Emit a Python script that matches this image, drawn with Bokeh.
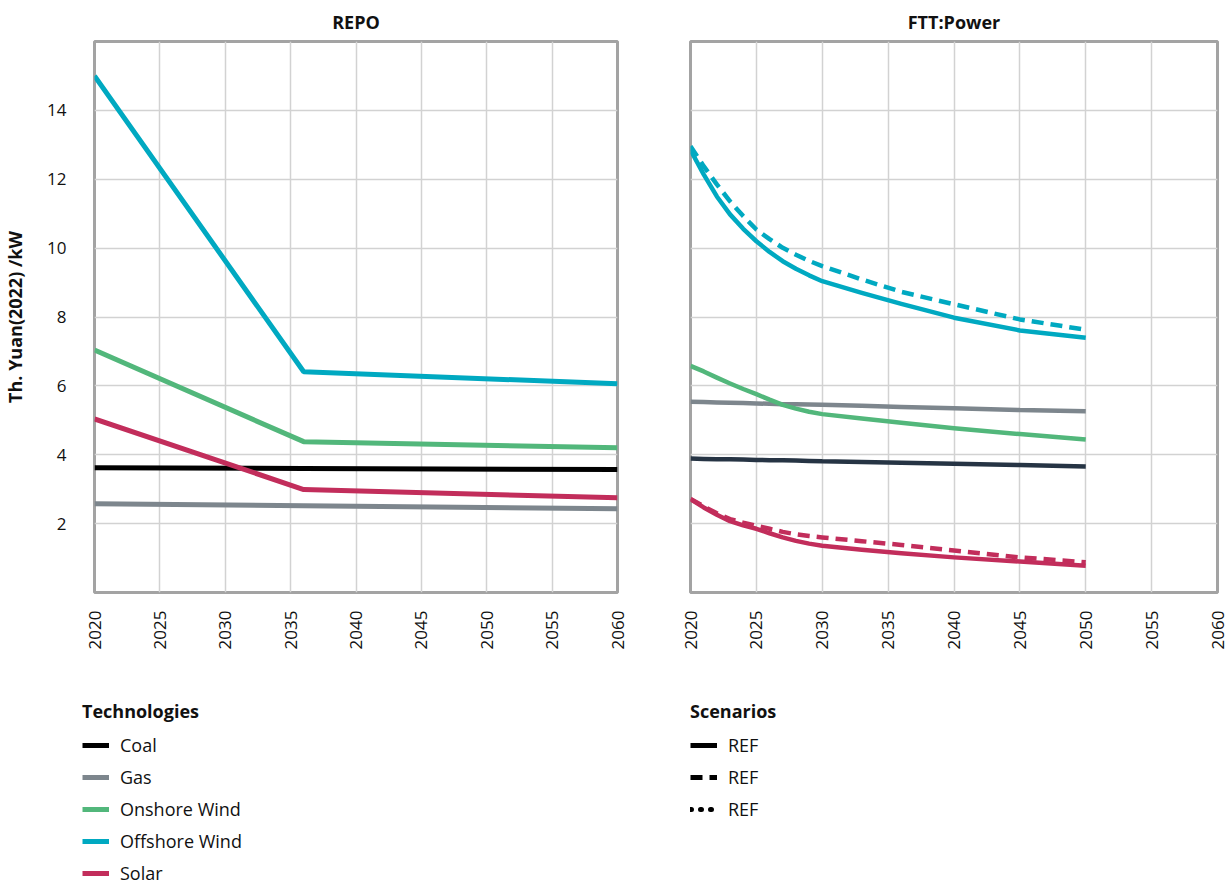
from bokeh.plotting import figure
from bokeh.layouts import row, column
from bokeh.models import Range1d, FixedTicker, Legend, LegendItem
from bokeh.embed import file_html
from bokeh.resources import INLINE

FONT = "Open Sans"

# ---------------- data ----------------
tech_names = ["Coal", "Gas", "Onshore Wind", "Offshore Wind", "Solar"]
tech_colors = ["#000000", "#7d868d", "#52b77b", "#00a9c1", "#c22d5b"]

repo_years = [2020, 2036, 2060]
repo_coal = [3.62, 3.60, 3.57]
repo_gas = [2.58, 2.52, 2.43]
repo_onshore = [7.04, 4.38, 4.20]
repo_offshore = [15.0, 6.41, 6.06]
repo_solar = [5.04, 2.99, 2.75]

ftt_years = [2020, 2021, 2022, 2023, 2024, 2025, 2026, 2027, 2028, 2029, 2030,
             2033, 2036, 2040, 2045, 2050]
ftt_coal = [3.89, 3.88, 3.87, 3.87, 3.86, 3.85, 3.84, 3.84, 3.83, 3.82, 3.81,
            3.79, 3.77, 3.74, 3.70, 3.66]
ftt_gas = [5.54, 5.53, 5.52, 5.51, 5.50, 5.49, 5.48, 5.47, 5.47, 5.46, 5.45,
           5.42, 5.39, 5.35, 5.30, 5.26]
ftt_onshore = [6.58, 6.42, 6.24, 6.07, 5.91, 5.76, 5.60, 5.45, 5.34, 5.25, 5.18,
               5.05, 4.93, 4.77, 4.60, 4.44]
ftt_offshore = [12.85, 12.14, 11.50, 10.98, 10.56, 10.20, 9.89, 9.62, 9.40, 9.21, 9.04,
                8.70, 8.38, 7.98, 7.61, 7.40]
ftt_offshore_dash = [12.96, 12.38, 11.85, 11.36, 10.93, 10.54, 10.26, 10.01, 9.81, 9.63, 9.48,
                     9.09, 8.73, 8.37, 7.93, 7.63]
ftt_solar = [2.71, 2.47, 2.26, 2.07, 1.95, 1.85, 1.72, 1.60, 1.50, 1.42, 1.36,
             1.24, 1.14, 1.02, 0.90, 0.78]
ftt_solar_dash = [2.72, 2.50, 2.30, 2.13, 2.03, 1.94, 1.85, 1.76, 1.69, 1.64, 1.60,
                  1.49, 1.38, 1.22, 1.02, 0.88]

x_ticks = [2020, 2025, 2030, 2035, 2040, 2045, 2050, 2055, 2060]
y_ticks = [2, 4, 6, 8, 10, 12, 14]
y_label = "Th. Yuan(2022) /kW"
scen_labels = ["REF", "REF", "REF"]
scen_dashes = ["solid", "12 7", "1 9"]

GRID = "#d2d2d2"
BORDER = "#a3a3a3"
TXT = "#111111"
TOP_H = 670
NAN = float("nan")


def make_fig(title, width, left, right, show_y):
    p = figure(width=width, height=TOP_H, output_backend="svg", toolbar_location=None,
               x_range=Range1d(2020, 2060), y_range=Range1d(0, 16),
               min_border_left=left, min_border_right=right,
               min_border_top=41, min_border_bottom=TOP_H - 592, title=title)
    p.title.text_font = FONT
    p.title.text_font_size = "18px"
    p.title.text_font_style = "bold"
    p.title.align = "center"
    p.title.text_color = TXT
    p.title.standoff = 15
    p.outline_line_color = BORDER
    p.outline_line_width = 3
    p.background_fill_color = "white"
    p.border_fill_color = "white"
    p.xaxis.ticker = FixedTicker(ticks=x_ticks)
    p.yaxis.ticker = FixedTicker(ticks=y_ticks)
    for ax in (p.xaxis, p.yaxis):
        ax.axis_line_color = None
        ax.major_tick_line_color = None
        ax.minor_tick_line_color = None
        ax.major_label_text_font = FONT
        ax.major_label_text_font_size = "17px"
        ax.major_label_text_color = TXT
    p.xaxis.major_label_orientation = 3.14159265 / 2
    p.xaxis.major_label_standoff = 12
    p.xgrid.grid_line_color = GRID
    p.ygrid.grid_line_color = GRID
    p.xgrid.grid_line_width = 1.5
    p.ygrid.grid_line_width = 1.5
    if show_y:
        p.yaxis.axis_label = y_label
        p.yaxis.axis_label_text_font = FONT
        p.yaxis.axis_label_text_font_size = "18px"
        p.yaxis.axis_label_text_font_style = "bold"
        p.yaxis.axis_label_text_color = TXT
        p.yaxis.major_label_standoff = 22
        p.yaxis.axis_label_standoff = 17
    else:
        p.yaxis.visible = False
    return p


def make_legend_fig(width):
    f = figure(width=width, height=886 - TOP_H, output_backend="svg", toolbar_location=None,
               x_range=Range1d(0, 1), y_range=Range1d(0, 1),
               x_axis_type=None, y_axis_type=None,
               min_border_left=0, min_border_right=0, min_border_top=0, min_border_bottom=0)
    f.outline_line_color = None
    f.xgrid.visible = False
    f.ygrid.visible = False
    f.background_fill_color = "white"
    f.border_fill_color = "white"
    return f


def style_legend(leg):
    leg.title_text_font = FONT
    leg.title_text_font_size = "18px"
    leg.title_text_font_style = "bold"
    leg.title_text_color = TXT
    leg.title_standoff = 10
    leg.label_text_font = FONT
    leg.label_text_font_size = "18px"
    leg.label_text_color = TXT
    leg.glyph_width = 27
    leg.glyph_height = 20
    leg.label_height = 20
    leg.spacing = 8
    leg.label_standoff = 11
    leg.padding = 0
    leg.margin = 0
    leg.border_line_color = None
    leg.background_fill_alpha = 0


# ---------------- left panel ----------------
p1 = make_fig("REPO", 650, 89, 33, True)
repo_series = [repo_coal, repo_gas, repo_onshore, repo_offshore, repo_solar]
for col, vals in zip(tech_colors, repo_series):
    p1.line(repo_years, vals, line_color=col, line_width=5)

# ---------------- right panel ----------------
p2 = make_fig("FTT:Power", 577, 40, 10, False)
ftt_coal_color = "#263444"
lw = 4.5
p2.line(ftt_years, ftt_coal, line_color=ftt_coal_color, line_width=lw)
p2.line(ftt_years, ftt_gas, line_color=tech_colors[1], line_width=lw)
p2.line(ftt_years, ftt_onshore, line_color=tech_colors[2], line_width=lw, line_join="round")
p2.line(ftt_years, ftt_offshore, line_color=tech_colors[3], line_width=lw, line_join="round")
p2.line(ftt_years, ftt_offshore_dash, line_color=tech_colors[3], line_width=lw,
        line_dash="12 7", line_join="round")
p2.line(ftt_years, ftt_solar, line_color=tech_colors[4], line_width=lw, line_join="round")
p2.line(ftt_years, ftt_solar_dash, line_color=tech_colors[4], line_width=lw,
        line_dash="12 7", line_join="round")

# ---------------- legends (swatch-only renderers, nothing drawn) ----------------
l1 = make_legend_fig(650)
tech_items = []
for name, col in zip(tech_names, tech_colors):
    r = l1.line([NAN], [NAN], line_color=col, line_width=5)
    tech_items.append(LegendItem(label=name, renderers=[r]))
leg1 = Legend(items=tech_items, location=(82, 1), title="Technologies")
style_legend(leg1)
l1.add_layout(leg1, "center")

l2 = make_legend_fig(577)
scen_items = []
for lab, dash in zip(scen_labels, scen_dashes):
    r = l2.line([NAN], [NAN], line_color="#000000", line_width=5, line_dash=dash,
                line_cap="round" if dash == "1 9" else "butt")
    scen_items.append(LegendItem(label=lab, renderers=[r]))
leg2 = Legend(items=scen_items, location=(40, 65), title="Scenarios")
style_legend(leg2)
l2.add_layout(leg2, "center")

layout = column(row(p1, p2), row(l1, l2))
open("out.html", "w").write(file_html(layout, INLINE))
